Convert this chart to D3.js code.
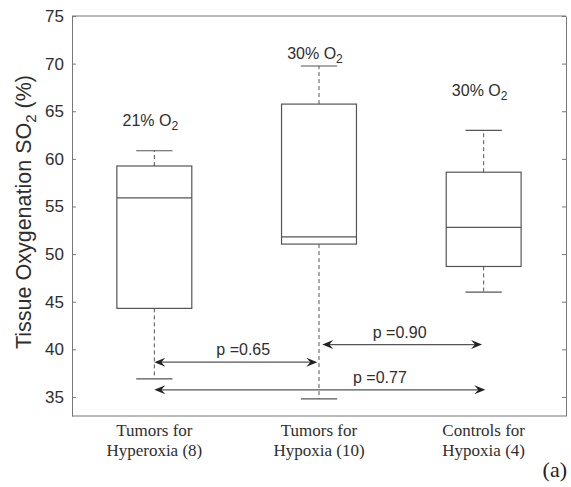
<!DOCTYPE html>
<html>
<head>
<meta charset="utf-8">
<script src="https://cdn.jsdelivr.net/npm/d3@7"></script>
<style>
  body { margin: 0; background: #fff; }
  svg { display: block; }
</style>
</head>
<body>
<div id="chart"></div>
<script>
// groups and box statistics
const groups = [
  ["Tumors for", "Hyperoxia (8)"],
  ["Tumors for", "Hypoxia (10)"],
  ["Controls for", "Hypoxia (4)"]
];
const whiskerLow  = [36.9, 34.8, 46.0];
const q1          = [44.3, 51.05, 48.7];
const medians     = [55.9, 51.8, 52.8];
const q3          = [59.25, 65.75, 58.6];
const whiskerHigh = [60.85, 69.75, 63.0];

const oxyLabels = ["21% O", "30% O", "30% O"];
const oxyLabelY = [63.5, 70.5, 66.6];

const yTicks = [35, 40, 45, 50, 55, 60, 65, 70, 75];

// comparisons: from group, to group, y level, p label, label centre
const arrowFrom   = [1.0, 2.02, 1.0];
const arrowTo     = [1.99, 2.99, 3.01];
const arrowY      = [38.65, 40.5, 35.75];
const arrowLabels = ["p =0.65", "p =0.90", "p =0.77"];
const arrowLabelX = [1.54, 2.49, 2.37];

const W = 571, H = 487;
const margin = {top: 16, right: 5, bottom: 71, left: 72};
const width = W - margin.left - margin.right;
const height = H - margin.top - margin.bottom;

const svg = d3.select("#chart").append("svg")
  .attr("width", W).attr("height", H)
  .style("font-family", "Liberation Sans, Arial, sans-serif");

const g = svg.append("g")
  .attr("transform", `translate(${margin.left},${margin.top})`);

const x = d3.scaleLinear().domain([0.5, 3.5]).range([0, width]);
const y = d3.scaleLinear().domain([33, 75]).range([height, 0]);

const lineCol = "#555";
const textCol = "#2e2e2e";

// axes
const leftAxis = g.append("g")
  .call(d3.axisLeft(y).tickValues(yTicks).tickSizeInner(-4).tickSizeOuter(0).tickPadding(8));
leftAxis.select(".domain").attr("stroke", "#777");
leftAxis.selectAll(".tick line").attr("stroke", "#777");
leftAxis.selectAll("text").attr("fill", textCol).style("font-size", "17px")
  .style("font-family", "Liberation Sans, Arial, sans-serif");

const rightAxis = g.append("g")
  .attr("transform", `translate(${width},0)`)
  .call(d3.axisRight(y).tickValues(yTicks).tickSizeInner(-4).tickSizeOuter(0).tickFormat(""));
rightAxis.select(".domain").attr("stroke", "#777");
rightAxis.selectAll(".tick line").attr("stroke", "#777");

g.append("line").attr("x1", 0).attr("x2", width).attr("y1", 0).attr("y2", 0)
  .attr("stroke", "#777");
g.append("line").attr("x1", 0).attr("x2", width).attr("y1", height).attr("y2", height)
  .attr("stroke", "#777");

// boxes
const boxW = x(1.455) - x(1);
const capW = x(1.22) - x(1);
const data = groups.map((grp, i) => ({
  pos: i + 1, lo: whiskerLow[i], q1: q1[i], med: medians[i], q3: q3[i], hi: whiskerHigh[i]
}));

const box = g.selectAll(".box").data(data).enter().append("g").attr("class", "box");

box.append("line")
  .attr("x1", d => x(d.pos)).attr("x2", d => x(d.pos))
  .attr("y1", d => y(d.q3)).attr("y2", d => y(d.hi))
  .attr("stroke", lineCol).attr("stroke-dasharray", "4,3");
box.append("line")
  .attr("x1", d => x(d.pos)).attr("x2", d => x(d.pos))
  .attr("y1", d => y(d.q1)).attr("y2", d => y(d.lo))
  .attr("stroke", lineCol).attr("stroke-dasharray", "4,3");
box.append("line")
  .attr("x1", d => x(d.pos) - capW / 2).attr("x2", d => x(d.pos) + capW / 2)
  .attr("y1", d => y(d.hi)).attr("y2", d => y(d.hi))
  .attr("stroke", lineCol).attr("stroke-width", 1.2);
box.append("line")
  .attr("x1", d => x(d.pos) - capW / 2).attr("x2", d => x(d.pos) + capW / 2)
  .attr("y1", d => y(d.lo)).attr("y2", d => y(d.lo))
  .attr("stroke", lineCol).attr("stroke-width", 1.2);
box.append("rect")
  .attr("x", d => x(d.pos) - boxW / 2).attr("width", boxW)
  .attr("y", d => y(d.q3)).attr("height", d => y(d.q1) - y(d.q3))
  .attr("fill", "none").attr("stroke", lineCol).attr("stroke-width", 1.2);
box.append("line")
  .attr("x1", d => x(d.pos) - boxW / 2).attr("x2", d => x(d.pos) + boxW / 2)
  .attr("y1", d => y(d.med)).attr("y2", d => y(d.med))
  .attr("stroke", lineCol).attr("stroke-width", 1.2);

// O2 labels
oxyLabels.forEach((t, i) => {
  const txt = g.append("text")
    .attr("x", x(i + 1) - 4).attr("y", y(oxyLabelY[i]))
    .attr("text-anchor", "middle").attr("fill", textCol)
    .style("font-size", "16px");
  txt.append("tspan").text(t);
  txt.append("tspan").attr("dy", 4).style("font-size", "12px").text("2");
});

// arrows
const head = (xt, yt, dir) => {
  const l = 11, w = 4.5, n = 7;
  return `M${xt},${yt} L${xt - dir * l},${yt - w} L${xt - dir * n},${yt} L${xt - dir * l},${yt + w} Z`;
};
arrowY.forEach((v, i) => {
  const x1 = x(arrowFrom[i]), x2 = x(arrowTo[i]), yy = y(v);
  g.append("line").attr("x1", x1 + 3).attr("x2", x2 - 3).attr("y1", yy).attr("y2", yy)
    .attr("stroke", lineCol).attr("stroke-width", 1.2);
  g.append("path").attr("d", head(x1, yy, -1)).attr("fill", "#222");
  g.append("path").attr("d", head(x2, yy, 1)).attr("fill", "#222");
  g.append("text")
    .attr("x", x(arrowLabelX[i])).attr("y", yy - 7)
    .attr("text-anchor", "middle").attr("fill", textCol)
    .style("font-size", "16px").text(arrowLabels[i]);
});

// x category labels
groups.forEach((lines, i) => {
  lines.forEach((t, j) => {
    g.append("text")
      .attr("x", x(i + 1)).attr("y", height + 20 + j * 20)
      .attr("text-anchor", "middle").attr("fill", textCol)
      .style("font-family", "Liberation Serif, Times New Roman, serif")
      .style("font-size", "17px").text(t);
  });
});

// y label
const yl = svg.append("text")
  .attr("transform", `translate(31,${margin.top + height / 2 - 4}) rotate(-90)`)
  .attr("text-anchor", "middle").attr("fill", textCol)
  .style("font-size", "21.5px");
yl.append("tspan").text("Tissue Oxygenation SO");
yl.append("tspan").attr("dy", 5).style("font-size", "15px").text("2");
yl.append("tspan").attr("dy", -5).text(" (%)");

// panel tag
svg.append("text")
  .attr("x", 567).attr("y", 477).attr("text-anchor", "end").attr("fill", "#222")
  .style("font-family", "Liberation Serif, Times New Roman, serif")
  .style("font-size", "22px").text("(a)");
</script>
</body>
</html>
